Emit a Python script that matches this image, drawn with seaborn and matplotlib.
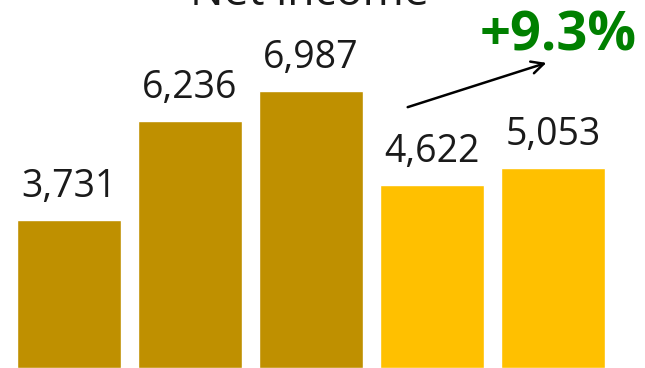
import matplotlib
matplotlib.use("Agg")
import matplotlib.pyplot as plt
import seaborn as sns
import pandas as pd

categories = ["Y1", "Y2", "Y3", "Y4", "Y5"]
values = [3731, 6236, 6987, 4622, 5053]
colors = ["#BF9000", "#BF9000", "#BF9000", "#FFC000", "#FFC000"]
value_labels = ["3,731", "6,236", "6,987", "4,622", "5,053"]
title = "Net income"
growth_label = "+9.3%"

sns.set_theme(style="white")
plt.rcParams["font.family"] = ["Open Sans", "DejaVu Sans"]

df = pd.DataFrame({"cat": categories, "val": values})

fig = plt.figure(figsize=(6.45, 3.68), dpi=100)
ax = fig.add_axes([0, 0, 1, 1])
sns.barplot(data=df, x="cat", y="val", hue="cat", palette=colors,
            width=0.86, saturation=1, legend=False, ax=ax)

ax.set_xlim(-0.57, 4.76)
ax.set_ylim(0, 9288)
ax.axis("off")

for i, (v, lab) in enumerate(zip(values, value_labels)):
    ax.annotate(lab, (i, v), xytext=(0, 16.5), textcoords="offset points",
                ha="center", va="baseline", fontsize=27, color="#1a1a1a")

fig.text(0.48, 1 - 5 / 368, title, ha="center", va="baseline",
         fontsize=32, color="#1a1a1a")

ax.annotate("", xy=(3.967, 7723), xytext=(2.777, 6562),
            arrowprops=dict(arrowstyle="->", color="black", lw=1.8,
                            mutation_scale=22))
ax.text(4.04, 8026, growth_label, ha="center", va="baseline",
        fontsize=39, fontweight="bold", color="#008000")

fig.savefig("out.png", dpi=100)
